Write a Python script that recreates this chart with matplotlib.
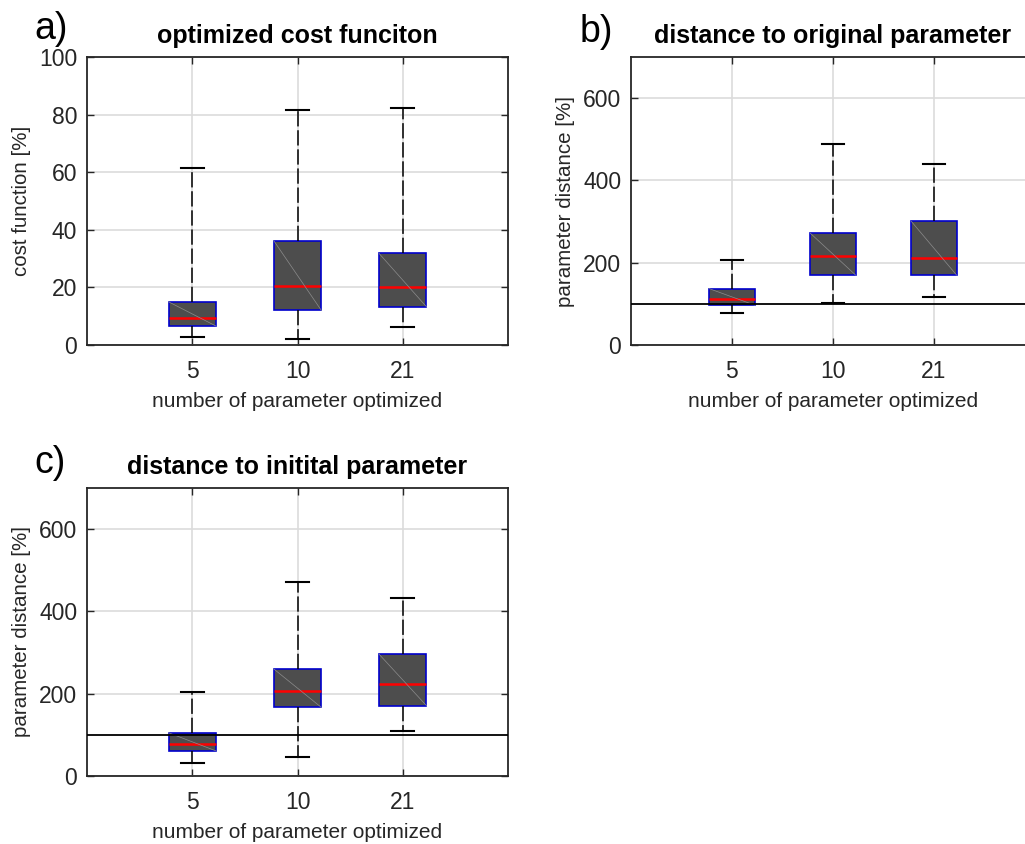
import matplotlib
matplotlib.use('Agg')
import matplotlib.pyplot as plt

plt.rcParams['font.family'] = ['Liberation Sans', 'DejaVu Sans']

# Datos
categorias = ['5', '10', '21']

# a) optimized cost function [%]
a_q1 = [6.6, 12.1, 13.3]
a_med = [9.5, 20.5, 20.2]
a_q3 = [15.0, 36.2, 31.8]
a_lo = [2.9, 2.1, 6.4]
a_hi = [61.5, 81.6, 82.3]

# b) distance to original parameter [%]
b_q1 = [97, 170, 170]
b_med = [112, 216, 211]
b_q3 = [137, 272, 301]
b_lo = [78, 103, 117]
b_hi = [207, 488, 439]

# c) distance to initial parameter [%]
c_q1 = [61, 167, 171]
c_med = [77, 207, 223]
c_q3 = [105, 260, 296]
c_lo = [32, 45, 110]
c_hi = [205, 471, 432]

referencia = 100

fig = plt.figure(figsize=(10.25, 8.44), dpi=100)

posiciones = [1, 2, 3]
ancho = 0.45


def caja(ax, q1, med, q3, lo, hi):
    stats = []
    for i in range(len(categorias)):
        stats.append(dict(q1=q1[i], med=med[i], q3=q3[i],
                          whislo=lo[i], whishi=hi[i], fliers=[]))
    ax.bxp(stats, positions=posiciones, widths=ancho, capwidths=0.22,
           patch_artist=True, showfliers=False,
           boxprops=dict(facecolor='#4d4d4d', edgecolor='#0000cc', linewidth=1.2),
           whiskerprops=dict(color='k', linestyle=(0, (10, 2.5)), linewidth=1.1),
           capprops=dict(color='k', linewidth=1.5),
           medianprops=dict(color='red', linewidth=1.8),
           zorder=3)
    # linea diagonal dentro de cada caja
    for p, a, b in zip(posiciones, q3, q1):
        ax.plot([p - ancho / 2, p + ancho / 2], [a, b], color='#8c8c8c',
                linewidth=0.5, zorder=3.5)


def estilo(ax, ymax, yticks, titulo, ylabel):
    ax.set_xlim(0, 4)
    ax.set_ylim(0, ymax)
    ax.set_yticks(yticks)
    ax.set_xticks(posiciones)
    ax.set_xticklabels(categorias)
    ax.grid(True, color='#dcdcdc', linewidth=1.2)
    ax.set_axisbelow(True)
    ax.tick_params(direction='in', top=True, right=True, length=5,
                   width=1, colors='#262626', labelsize=16.5, pad=7)
    ax.tick_params(axis='x', pad=11)
    for s in ax.spines.values():
        s.set_color('#262626')
        s.set_linewidth(1.3)
    ax.set_title(titulo, fontsize=18, fontweight='bold', pad=10)
    ax.set_xlabel('number of parameter optimized', fontsize=15, color='#262626', labelpad=6)
    ax.set_ylabel(ylabel, fontsize=14.8, color='#262626', labelpad=6)


ax1 = fig.add_axes([0.0849, 0.5912, 0.4107, 0.3412])
caja(ax1, a_q1, a_med, a_q3, a_lo, a_hi)
estilo(ax1, 100, [0, 20, 40, 60, 80, 100], 'optimized cost funciton', 'cost function [%]')

ax2 = fig.add_axes([0.6156, 0.5912, 0.394, 0.3412])
caja(ax2, b_q1, b_med, b_q3, b_lo, b_hi)
ax2.axhline(referencia, color='k', linewidth=1.3, zorder=4)
estilo(ax2, 700, [0, 200, 400, 600], 'distance to original parameter', 'parameter distance [%]')

ax3 = fig.add_axes([0.0849, 0.0806, 0.4107, 0.3412])
caja(ax3, c_q1, c_med, c_q3, c_lo, c_hi)
ax3.axhline(referencia, color='k', linewidth=1.3, zorder=4)
estilo(ax3, 700, [0, 200, 400, 600], 'distance to initital parameter', 'parameter distance [%]')

# etiquetas de los paneles
fig.text(34 / 1025, 1 - 39 / 844, 'a)', fontsize=27, va='baseline')
fig.text(580 / 1025, 1 - 42 / 844, 'b)', fontsize=27, va='baseline')
fig.text(34 / 1025, 1 - 473 / 844, 'c)', fontsize=27, va='baseline')

fig.savefig('out.png', dpi=100)
